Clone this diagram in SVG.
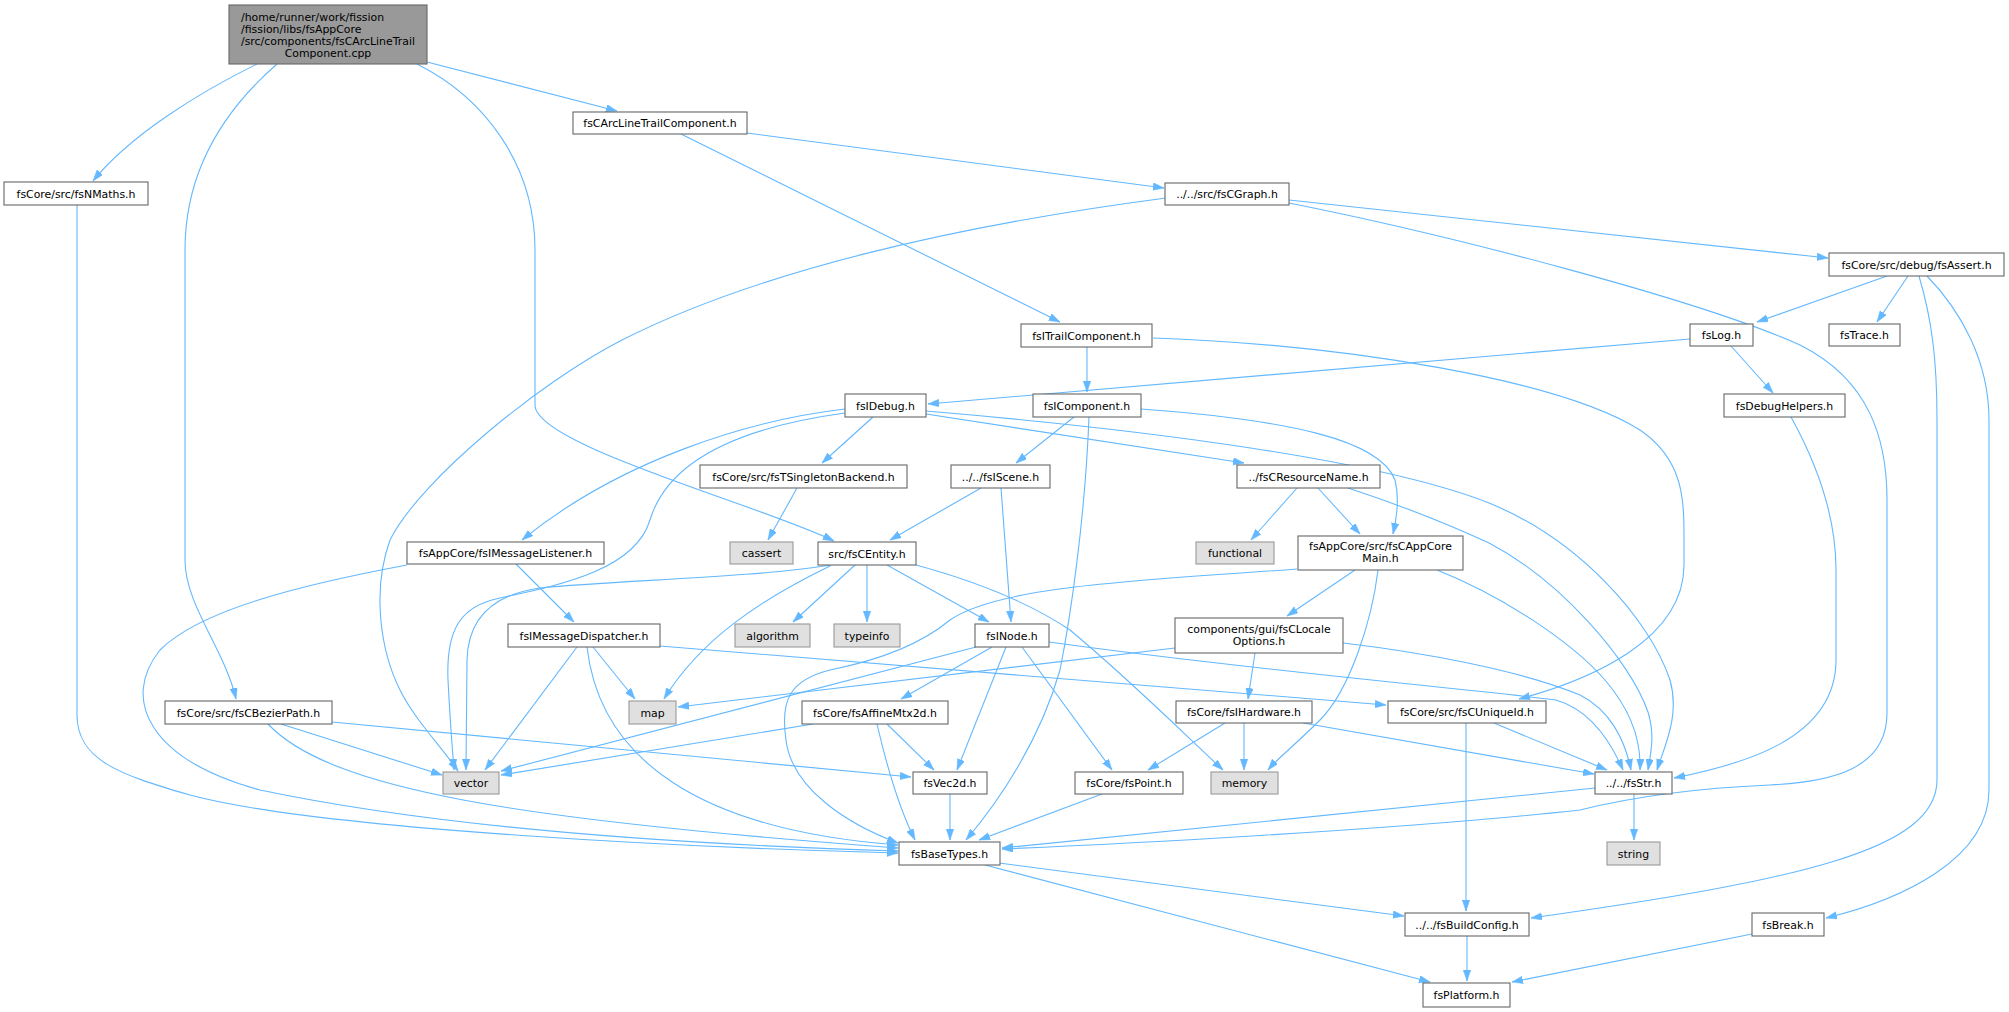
<svg xmlns="http://www.w3.org/2000/svg" width="2009" height="1012" viewBox="0 0 2009 1012">
<style>
text{font-family:"DejaVu Sans","Liberation Sans",sans-serif;font-size:10.9px;fill:#000;text-anchor:middle}
.n rect{fill:#fff;stroke:#666;stroke-width:1.1}
.g rect{fill:#e0e0e0;stroke:#999;stroke-width:1.1}
.m rect{fill:#999;stroke:#666;stroke-width:1.1}
#edges path{fill:none;stroke:#63b8ff;stroke-width:1.1;marker-end:url(#ah)}
</style>
<defs>
<marker id="ah" markerUnits="userSpaceOnUse" markerWidth="11" markerHeight="8" refX="11" refY="3.75" orient="auto">
<path d="M0,0 L11,3.75 L0,7.5 z" fill="#63b8ff" stroke="#63b8ff" stroke-width="0.5"/>
</marker>
</defs>
<rect width="2009" height="1012" fill="#fff"/>
<g id="edges">
<path d="M427,62 L617,111"/>
<path d="M257,64 C200,92 130,135 93,181"/>
<path d="M277,64 C230,105 185,165 185,250 L185,560 C185,605 225,650 236,699"/>
<path d="M417,64 C485,98 535,165 535,250 L535,405 C535,445 760,505 834,541"/>
<path d="M747,133 L1164,188"/>
<path d="M681,134 L1060,322"/>
<path d="M1289,200 L1828,258"/>
<path d="M1166,198 C960,225 760,270 622,340 C540,382 420,480 390,540 C372,590 380,650 400,690 C415,720 440,745 458,771"/>
<path d="M1289,203 C1450,235 1700,300 1800,345 C1870,380 1887,440 1887,500 L1887,713 C1887,770 1830,782 1770,785 C1700,788 1640,795 1580,810 C1400,830 1100,845 1002,849"/>
<path d="M1887,276 L1757,322"/>
<path d="M1908,276 L1877,322"/>
<path d="M1919,276 C1932,320 1937,360 1937,420 L1937,780 C1937,850 1800,880 1531,918"/>
<path d="M1927,276 C1960,310 1989,360 1989,420 L1989,790 C1989,860 1900,900 1826,918"/>
<path d="M1690,339 L928,404"/>
<path d="M1731,346 L1773,393"/>
<path d="M1791,417 C1812,455 1836,510 1836,570 L1836,660 C1836,740 1740,765 1674,778"/>
<path d="M1087,347 L1087,392"/>
<path d="M1153,338 C1350,345 1560,380 1640,430 C1684,460 1684,500 1684,540 L1684,565 C1684,640 1590,680 1519,699"/>
<path d="M873,417 L822,463"/>
<path d="M926,414 L1244,463"/>
<path d="M926,411 C1150,430 1380,460 1489,503 C1580,540 1650,620 1670,680 C1680,715 1665,745 1657,770"/>
<path d="M845,409 C750,420 620,460 522,540"/>
<path d="M845,413 C720,430 665,470 650,520 C635,570 560,585 500,598 C460,606 446,630 448,680 C450,720 452,745 454,770"/>
<path d="M1074,417 L1016,463"/>
<path d="M1089,417 C1085,520 1070,620 1060,670 C1040,740 1000,800 966,840"/>
<path d="M1141,409 C1290,420 1380,440 1395,480 C1400,500 1396,520 1393,534"/>
<path d="M981,488 L890,540"/>
<path d="M1001,488 L1011,622"/>
<path d="M1297,488 L1251,540"/>
<path d="M1318,488 L1360,534"/>
<path d="M1348,488 C1400,505 1450,525 1489,543 C1560,580 1630,660 1648,712 C1655,735 1651,752 1648,770"/>
<path d="M1355,570 L1287,616"/>
<path d="M1378,570 C1372,620 1350,690 1320,720 C1295,745 1278,758 1268,770"/>
<path d="M1437,570 C1500,595 1570,640 1605,680 C1635,715 1641,745 1640,770"/>
<path d="M1297,569 C1150,580 1000,585 950,620 C920,645 880,660 830,670 C790,680 780,700 786,740 C792,790 850,825 898,843"/>
<path d="M1255,653 L1248,699"/>
<path d="M1175,648 L678,707"/>
<path d="M1343,643 C1420,652 1520,670 1580,695 C1610,710 1625,740 1631,770"/>
<path d="M887,565 L989,622"/>
<path d="M855,565 L793,622"/>
<path d="M867,565 L867,622"/>
<path d="M830,566 C760,600 700,640 664,699"/>
<path d="M831,565 C750,578 620,580 540,588 C490,595 468,620 467,660 L466,770"/>
<path d="M916,565 C990,585 1040,610 1070,630 C1130,680 1180,730 1223,770"/>
<path d="M976,647 L501,771"/>
<path d="M992,647 L901,699"/>
<path d="M1006,647 L957,770"/>
<path d="M1022,647 L1112,770"/>
<path d="M1049,642 C1250,670 1480,690 1556,700 C1590,710 1610,740 1623,770"/>
<path d="M1225,723 L1148,770"/>
<path d="M1244,723 L1244,770"/>
<path d="M1303,723 L1594,774"/>
<path d="M1466,723 L1466,911"/>
<path d="M1494,723 L1607,770"/>
<path d="M813,724 L501,775"/>
<path d="M887,724 L934,770"/>
<path d="M877,724 C890,780 905,820 915,840"/>
<path d="M281,724 L442,775"/>
<path d="M332,722 L911,777"/>
<path d="M268,724 C330,790 520,820 898,848"/>
<path d="M577,647 L485,770"/>
<path d="M593,647 L635,699"/>
<path d="M587,647 C600,760 700,830 898,845"/>
<path d="M660,646 L1386,705"/>
<path d="M516,564 L574,622"/>
<path d="M407,565 C300,585 200,610 160,650 C120,700 150,760 260,790 C450,830 700,845 898,851"/>
<path d="M77,205 L77,715 C77,760 120,775 190,795 C320,830 700,848 898,853"/>
<path d="M950,794 L950,840"/>
<path d="M1102,794 L979,840"/>
<path d="M1595,788 L1002,848"/>
<path d="M1634,794 L1634,840"/>
<path d="M999,863 L1404,916"/>
<path d="M985,865 L1430,982"/>
<path d="M1467,936 L1467,981"/>
<path d="M1752,934 L1512,982"/>
<path d="M797,488 L768,540"/>
</g>
<g id="main" class="m"><rect x="229" y="5" width="198" height="59"/>
<text x="241" y="20.5" style="text-anchor:start">/home/runner/work/fission</text>
<text x="241" y="32.5" style="text-anchor:start">/fission/libs/fsAppCore</text>
<text x="241" y="44.5" style="text-anchor:start">/src/components/fsCArcLineTrail</text>
<text x="328" y="56.5">Component.cpp</text></g>
<g id="n_arcH" class="n"><rect x="573" y="112" width="174" height="22"/><text x="660" y="127">fsCArcLineTrailComponent.h</text></g>
<g id="n_nmaths" class="n"><rect x="4" y="182" width="144" height="23"/><text x="76" y="197.5">fsCore/src/fsNMaths.h</text></g>
<g id="n_cgraph" class="n"><rect x="1165" y="183" width="124" height="22"/><text x="1227" y="198">../../src/fsCGraph.h</text></g>
<g id="n_assert" class="n"><rect x="1829" y="253" width="175" height="23"/><text x="1916.5" y="268.5">fsCore/src/debug/fsAssert.h</text></g>
<g id="n_itrail" class="n"><rect x="1021" y="324" width="131" height="23"/><text x="1086.5" y="339.5">fsITrailComponent.h</text></g>
<g id="n_log" class="n"><rect x="1690" y="324" width="63" height="22"/><text x="1721.5" y="339">fsLog.h</text></g>
<g id="n_trace" class="n"><rect x="1829" y="324" width="71" height="22"/><text x="1864.5" y="339">fsTrace.h</text></g>
<g id="n_idebug" class="n"><rect x="845" y="394" width="81" height="23"/><text x="885.5" y="409.5">fsIDebug.h</text></g>
<g id="n_icomp" class="n"><rect x="1033" y="394" width="108" height="23"/><text x="1087" y="409.5">fsIComponent.h</text></g>
<g id="n_dbghelp" class="n"><rect x="1724" y="394" width="121" height="23"/><text x="1784.5" y="409.5">fsDebugHelpers.h</text></g>
<g id="n_tsingle" class="n"><rect x="700" y="465" width="207" height="23"/><text x="803.5" y="480.5">fsCore/src/fsTSingletonBackend.h</text></g>
<g id="n_iscene" class="n"><rect x="951" y="465" width="99" height="23"/><text x="1000.5" y="480.5">../../fsIScene.h</text></g>
<g id="n_resname" class="n"><rect x="1237" y="465" width="143" height="23"/><text x="1308.5" y="480.5">../fsCResourceName.h</text></g>
<g id="n_msglist" class="n"><rect x="407" y="542" width="197" height="22"/><text x="505.5" y="557">fsAppCore/fsIMessageListener.h</text></g>
<g id="n_cassert" class="g"><rect x="730" y="542" width="63" height="22"/><text x="761.5" y="557">cassert</text></g>
<g id="n_entity" class="n"><rect x="818" y="542" width="98" height="23"/><text x="867" y="557.5">src/fsCEntity.h</text></g>
<g id="n_functional" class="g"><rect x="1196" y="542" width="78" height="22"/><text x="1235" y="557">functional</text></g>
<g id="n_appmain" class="n"><rect x="1298" y="536" width="165" height="34"/><text x="1380.5" y="550">fsAppCore/src/fsCAppCore</text><text x="1380.5" y="562">Main.h</text></g>
<g id="n_msgdisp" class="n"><rect x="508" y="624" width="152" height="23"/><text x="584" y="639.5">fsIMessageDispatcher.h</text></g>
<g id="n_algorithm" class="g"><rect x="735" y="624" width="75" height="23"/><text x="772.5" y="639.5">algorithm</text></g>
<g id="n_typeinfo" class="g"><rect x="834" y="624" width="66" height="23"/><text x="867" y="639.5">typeinfo</text></g>
<g id="n_inode" class="n"><rect x="975" y="624" width="74" height="23"/><text x="1012" y="639.5">fsINode.h</text></g>
<g id="n_locale" class="n"><rect x="1175" y="618" width="168" height="35"/><text x="1259" y="632.5">components/gui/fsCLocale</text><text x="1259" y="644.5">Options.h</text></g>
<g id="n_bezier" class="n"><rect x="165" y="701" width="167" height="23"/><text x="248.5" y="716.5">fsCore/src/fsCBezierPath.h</text></g>
<g id="n_map" class="g"><rect x="629" y="701" width="47" height="23"/><text x="652.5" y="716.5">map</text></g>
<g id="n_affine" class="n"><rect x="802" y="701" width="146" height="23"/><text x="875" y="716.5">fsCore/fsAffineMtx2d.h</text></g>
<g id="n_ihw" class="n"><rect x="1176" y="701" width="136" height="22"/><text x="1244" y="716">fsCore/fsIHardware.h</text></g>
<g id="n_uniq" class="n"><rect x="1388" y="701" width="158" height="22"/><text x="1467" y="716">fsCore/src/fsCUniqueId.h</text></g>
<g id="n_vector" class="g"><rect x="443" y="772" width="56" height="22"/><text x="471" y="787">vector</text></g>
<g id="n_vec2d" class="n"><rect x="913" y="772" width="74" height="22"/><text x="950" y="787">fsVec2d.h</text></g>
<g id="n_point" class="n"><rect x="1075" y="772" width="108" height="22"/><text x="1129" y="787">fsCore/fsPoint.h</text></g>
<g id="n_memory" class="g"><rect x="1211" y="772" width="67" height="22"/><text x="1244.5" y="787">memory</text></g>
<g id="n_str" class="n"><rect x="1595" y="772" width="77" height="22"/><text x="1633.5" y="787">../../fsStr.h</text></g>
<g id="n_basetypes" class="n"><rect x="899" y="842" width="101" height="23"/><text x="949.5" y="857.5">fsBaseTypes.h</text></g>
<g id="n_string" class="g"><rect x="1607" y="842" width="53" height="23"/><text x="1633.5" y="857.5">string</text></g>
<g id="n_buildcfg" class="n"><rect x="1405" y="913" width="124" height="23"/><text x="1467" y="928.5">../../fsBuildConfig.h</text></g>
<g id="n_break" class="n"><rect x="1752" y="913" width="72" height="23"/><text x="1788" y="928.5">fsBreak.h</text></g>
<g id="n_platform" class="n"><rect x="1423" y="983" width="87" height="24"/><text x="1466.5" y="999">fsPlatform.h</text></g>
</svg>
